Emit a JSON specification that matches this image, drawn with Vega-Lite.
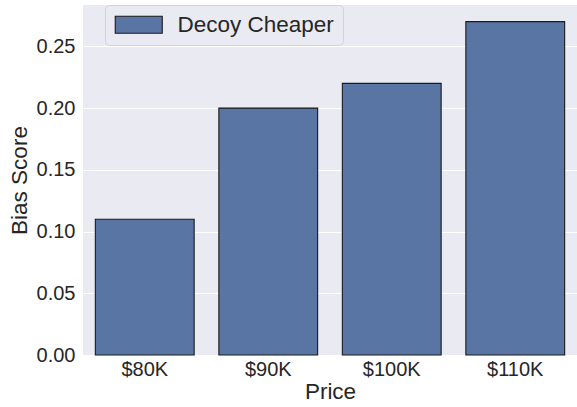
{
  "$schema": "https://vega.github.io/schema/vega-lite/v6.json",
  "width": 494,
  "height": 350,
  "autosize": {"type": "none"},
  "padding": {"left": 83, "top": 5, "right": 0, "bottom": 52},
  "background": "#FFFFFF",
  "config": {
    "view": {"fill": "#EAEAF2", "stroke": null},
    "font": "Liberation Sans",
    "axis": {
      "labelFont": "Liberation Sans",
      "titleFont": "Liberation Sans",
      "labelColor": "#262626",
      "titleColor": "#262626",
      "labelFontSize": 20,
      "titleFontSize": 22.5,
      "titleFontWeight": "normal",
      "ticks": false,
      "domain": false,
      "gridColor": "#FFFFFF",
      "gridWidth": 1.2
    },
    "legend": {
      "labelFont": "Liberation Sans",
      "labelFontSize": 22.5,
      "labelColor": "#262626"
    }
  },
  "data": {
    "values": [
      {"price": "$80K", "bias": 0.11, "series": "Decoy Cheaper"},
      {"price": "$90K", "bias": 0.20, "series": "Decoy Cheaper"},
      {"price": "$100K", "bias": 0.22, "series": "Decoy Cheaper"},
      {"price": "$110K", "bias": 0.27, "series": "Decoy Cheaper"}
    ]
  },
  "mark": {"type": "bar", "stroke": "#1A1A1A", "strokeWidth": 1.1},
  "encoding": {
    "x": {
      "field": "price",
      "type": "nominal",
      "sort": null,
      "scale": {"paddingInner": 0.2, "paddingOuter": 0.1},
      "axis": {"title": "Price", "labelAngle": 0, "labelPadding": 4, "titlePadding": 1, "grid": false}
    },
    "y": {
      "field": "bias",
      "type": "quantitative",
      "scale": {"domain": [0, 0.2835], "nice": false, "zero": true},
      "axis": {
        "title": "Bias Score",
        "values": [0, 0.05, 0.1, 0.15, 0.2, 0.25],
        "format": ".2f",
        "labelPadding": 8,
        "titlePadding": 5,
        "grid": true
      }
    },
    "color": {
      "field": "series",
      "type": "nominal",
      "scale": {"range": ["#5875A4"]},
      "legend": {
        "title": null,
        "orient": "none",
        "legendX": 22,
        "legendY": 0,
        "fillColor": "#EAEAF2",
        "strokeColor": "#D2D2D8",
        "cornerRadius": 4,
        "padding": 8.5,
        "symbolType": "M-2.765,-1H2.765V1H-2.765Z",
        "symbolSize": 289,
        "symbolOffset": 14,
        "symbolStrokeColor": "#1A1A1A",
        "symbolStrokeWidth": 1.1,
        "symbolOpacity": 1,
        "labelOffset": 27.5
      }
    }
  }
}
